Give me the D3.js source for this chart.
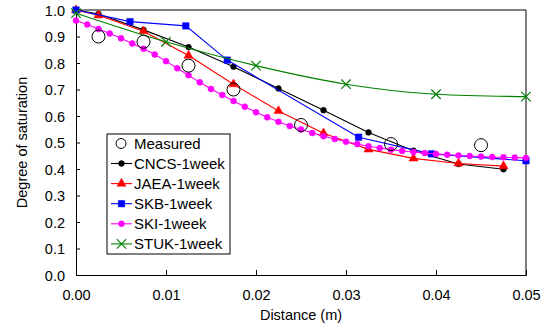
<!DOCTYPE html>
<html>
<head>
<meta charset="utf-8">
<script src="https://cdn.jsdelivr.net/npm/d3@7"></script>
<style>
  body { margin: 0; background: #fff; }
  text { font-family: Arial, "Liberation Sans", sans-serif; fill: #000; }
</style>
</head>
<body>
<div id="chart"></div>
<script>
// data
const measuredX = [0.0025, 0.0075, 0.0125, 0.0175, 0.025, 0.035, 0.045];
const measuredY = [0.90, 0.88, 0.79, 0.70, 0.566, 0.494, 0.49];

const cncsX = [0, 0.0025, 0.0075, 0.0125, 0.0175, 0.0225, 0.0275, 0.0325, 0.0375, 0.0425, 0.0475];
const cncsY = [1.0, 0.985, 0.925, 0.86, 0.786, 0.704, 0.622, 0.538, 0.469, 0.419, 0.399];

const jaeaX = [0, 0.0025, 0.0075, 0.0125, 0.0175, 0.0225, 0.0275, 0.0325, 0.0375, 0.0425, 0.0475];
const jaeaY = [1.0, 0.98, 0.92, 0.828, 0.72, 0.619, 0.535, 0.474, 0.44, 0.421, 0.411];

const skbX = [0, 0.006, 0.0122, 0.0168, 0.0314, 0.0395, 0.05];
const skbY = [1.0, 0.956, 0.94, 0.811, 0.52, 0.457, 0.431];

const skiX = [0, 0.00125, 0.0025, 0.00375, 0.005, 0.00625, 0.0075, 0.00875, 0.01, 0.01125,
  0.0125, 0.01375, 0.015, 0.01625, 0.0175, 0.01875, 0.02, 0.02125, 0.0225, 0.02375,
  0.025, 0.02625, 0.0275, 0.02875, 0.03, 0.03125, 0.0325, 0.03375, 0.035, 0.03625,
  0.0375, 0.03875, 0.04, 0.04125, 0.0425, 0.04375, 0.045, 0.04625, 0.0475, 0.04875, 0.05];
const skiY = [0.96, 0.945, 0.928, 0.911, 0.893, 0.874, 0.854, 0.832, 0.807, 0.780,
  0.754, 0.727, 0.702, 0.679, 0.657, 0.635, 0.614, 0.595, 0.578, 0.562,
  0.549, 0.536, 0.524, 0.513, 0.503, 0.494, 0.486, 0.479, 0.473, 0.468,
  0.464, 0.460, 0.457, 0.454, 0.451, 0.449, 0.447, 0.445, 0.444, 0.443, 0.442];

const stukX = [0, 0.01, 0.02, 0.03, 0.04, 0.05];
const stukY = [0.988, 0.88, 0.79, 0.72, 0.682, 0.673];

const xTicks = [0, 0.01, 0.02, 0.03, 0.04, 0.05];
const yTicks = [0, 0.1, 0.2, 0.3, 0.4, 0.5, 0.6, 0.7, 0.8, 0.9, 1.0];

const seriesNames = ["CNCS-1week", "JAEA-1week", "SKB-1week", "SKI-1week", "STUK-1week"];
const seriesColors = ["#000000", "#ff0000", "#0000ff", "#ff00ff", "#008000"];
const seriesData = [[cncsX, cncsY], [jaeaX, jaeaY], [skbX, skbY], [skiX, skiY], [stukX, stukY]];

const W = 544, H = 330;
const margin = {top: 10, right: 18, bottom: 55, left: 76};

const svg = d3.select("#chart").append("svg")
    .attr("width", W)
    .attr("height", H);

const x = d3.scaleLinear().domain([0, 0.05]).range([margin.left, W - margin.right]);
const y = d3.scaleLinear().domain([0, 1]).range([H - margin.bottom, margin.top]);

// frame: grey top, black right
svg.append("line")
    .attr("x1", x(0)).attr("x2", x(0.05))
    .attr("y1", y(1)).attr("y2", y(1))
    .attr("stroke", "#808080").attr("stroke-width", 2);
svg.append("line")
    .attr("x1", x(0.05)).attr("x2", x(0.05))
    .attr("y1", y(1)).attr("y2", y(0))
    .attr("stroke", "#000").attr("stroke-width", 1);

// axes with inward ticks
const xAxis = svg.append("g")
    .attr("transform", `translate(0,${y(0)})`)
    .call(d3.axisBottom(x).tickValues(xTicks).tickSize(-5).tickPadding(15).tickFormat(d3.format(".2f")));
const yAxis = svg.append("g")
    .attr("transform", `translate(${x(0)},0)`)
    .call(d3.axisLeft(y).tickValues(yTicks).tickSize(-4).tickPadding(11).tickFormat(d3.format(".1f")));

[xAxis, yAxis].forEach(g => {
    g.select(".domain").attr("stroke", "#000");
    g.selectAll(".tick line").attr("stroke", "#000");
    g.selectAll(".tick text").style("font-size", "14.5px").style("font-family", "Arial, 'Liberation Sans', sans-serif").attr("fill", "#000");
});
yAxis.selectAll(".tick text").attr("dy", "0.35em");

svg.append("text")
    .attr("x", (x(0) + x(0.05)) / 2)
    .attr("y", 320)
    .attr("text-anchor", "middle")
    .style("font-size", "14.5px")
    .text("Distance (m)");

svg.append("text")
    .attr("transform", `translate(27,${(y(0) + y(1)) / 2}) rotate(-90)`)
    .attr("text-anchor", "middle")
    .style("font-size", "14.5px")
    .text("Degree of saturation");

// markers
const symbols = [
    d3.symbol().type(d3.symbolCircle).size(26),
    d3.symbol().type(d3.symbolTriangle).size(36),
    d3.symbol().type(d3.symbolSquare).size(42),
    d3.symbol().type(d3.symbolCircle).size(28),
    d3.symbol().type(d3.symbolX).size(60)
];

const plot = svg.append("g");

seriesData.forEach((s, i) => {
    const pts = s[0].map((v, j) => [v, s[1][j]]);
    const line = d3.line()
        .x(d => x(d[0]))
        .y(d => y(d[1]))
        .curve(i == 4 ? d3.curveMonotoneX : d3.curveLinear);
    plot.append("path")
        .attr("d", line(pts))
        .attr("fill", "none")
        .attr("stroke", seriesColors[i])
        .attr("stroke-width", 1.1);
    plot.selectAll("mk" + i)
        .data(pts)
        .join("path")
        .attr("transform", d => `translate(${x(d[0])},${y(d[1])})`)
        .attr("d", symbols[i]())
        .attr("fill", i == 4 ? "none" : seriesColors[i])
        .attr("stroke", seriesColors[i])
        .attr("stroke-width", i == 4 ? 1.2 : 0.5);
});

// measured circles
plot.selectAll("measured")
    .data(measuredX.map((v, j) => [v, measuredY[j]]))
    .join("circle")
    .attr("cx", d => x(d[0]))
    .attr("cy", d => y(d[1]))
    .attr("r", 6.5)
    .attr("fill", "none")
    .attr("stroke", "#000")
    .attr("stroke-width", 1);

// legend
const lg = svg.append("g").attr("transform", "translate(107,134)");
lg.append("rect")
    .attr("width", 123).attr("height", 120)
    .attr("fill", "#fff").attr("stroke", "#000").attr("stroke-width", 1);

lg.append("circle").attr("cx", 14).attr("cy", 9.5).attr("r", 5)
    .attr("fill", "none").attr("stroke", "#000");
lg.append("text").attr("x", 27).attr("y", 9.5).attr("dy", "0.35em")
    .style("font-size", "15px").text("Measured");

seriesNames.forEach((name, i) => {
    const cy = 29.5 + i * 20.1;
    lg.append("line").attr("x1", 4).attr("x2", 25).attr("y1", cy).attr("y2", cy)
        .attr("stroke", seriesColors[i]).attr("stroke-width", 1.1);
    lg.append("path")
        .attr("transform", `translate(14.5,${cy})`)
        .attr("d", symbols[i]())
        .attr("fill", i == 4 ? "none" : seriesColors[i])
        .attr("stroke", seriesColors[i])
        .attr("stroke-width", i == 4 ? 1.2 : 0.5);
    lg.append("text").attr("x", 27).attr("y", cy).attr("dy", "0.35em")
        .style("font-size", "15px").text(name);
});
</script>
</body>
</html>
